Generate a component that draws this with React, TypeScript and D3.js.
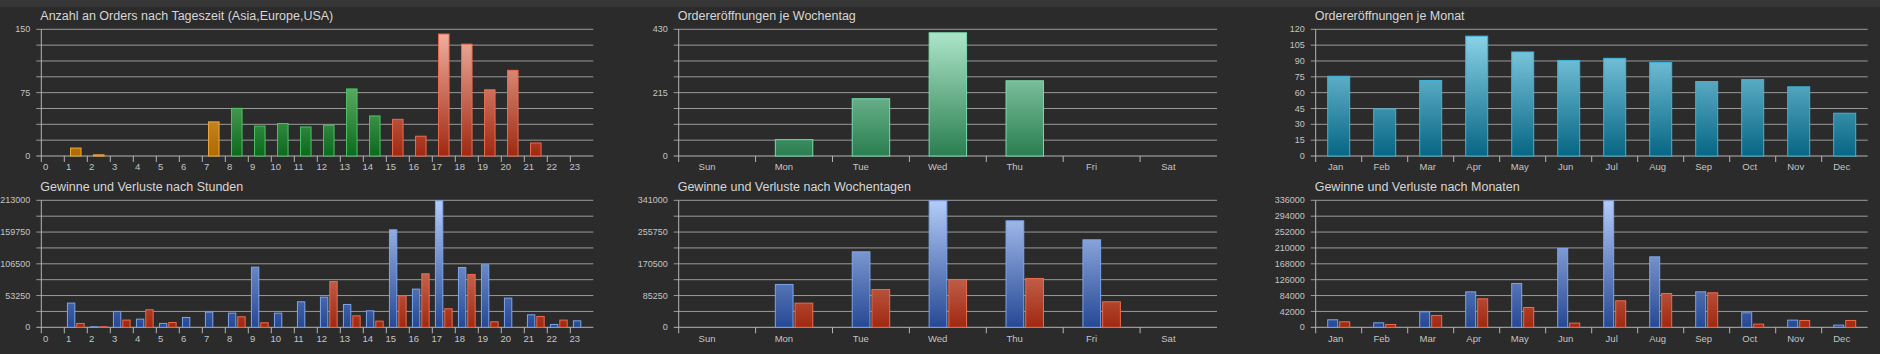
import * as d3 from "d3";

// categories
const hourLabels = ["0", "1", "2", "3", "4", "5", "6", "7", "8", "9", "10", "11", "12", "13", "14", "15", "16", "17", "18", "19", "20", "21", "22", "23"];
const hourRegion = ["asia", "asia", "asia", "asia", "asia", "asia", "asia", "asia", "europe", "europe", "europe", "europe", "europe", "europe", "europe", "usa", "usa", "usa", "usa", "usa", "usa", "usa", "usa", "usa"];
const weekdayLabels = ["Sun", "Mon", "Tue", "Wed", "Thu", "Fri", "Sat"];
const monthLabels = ["Jan", "Feb", "Mar", "Apr", "May", "Jun", "Jul", "Aug", "Sep", "Oct", "Nov", "Dec"];

// order counts
const hourOrders = [0, 10, 2, 0, 0, 0, 0, 41, 57, 36, 39, 35, 37, 80, 48, 44, 24, 145, 133, 79, 102, 16, 0, 0];
const weekdayOrders = [0, 57, 196, 420, 257, 0, 0];
const monthOrders = [76, 45, 72, 114, 99, 91, 93, 89, 71, 73, 66, 41];

// gains / losses
const hourGains = [0, 41400, 1700, 27400, 14500, 7300, 17300, 26300, 24600, 101800, 24600, 43600, 51400, 39100, 28500, 164400, 64900, 213000, 101200, 105700, 49800, 21800, 5600, 11700];
const hourLosses = [0, 7300, 1700, 12900, 30200, 8900, 0, 800, 18500, 8400, 0, 0, 77700, 20100, 11200, 53700, 90600, 31900, 89500, 10100, 0, 19000, 12900, 0];
const weekdayGains = [0, 116400, 204100, 341000, 287300, 236300, 0];
const weekdayLosses = [0, 66200, 102900, 129800, 132500, 69800, 0];
const monthGains = [21200, 13200, 42300, 95200, 117300, 209900, 336000, 187800, 95200, 39700, 20300, 7100];
const monthLosses = [15900, 8800, 32600, 76700, 53800, 12400, 71400, 90800, 92600, 9700, 19400, 19400];

// y tick labels
const hourOrderTicks = [0, 75, 150];
const weekdayOrderTicks = [0, 215, 430];
const monthOrderTicks = [0, 15, 30, 45, 60, 75, 90, 105, 120];
const hourPnlTicks = [0, 53250, 106500, 159750, 213000];
const weekdayPnlTicks = [0, 85250, 170500, 255750, 341000];
const monthPnlTicks = [0, 42000, 84000, 126000, 168000, 210000, 252000, 294000, 336000];

const palette: Record<string, { top: string; bottom: string; stroke: string }> = {
  asia: { top: "#f4c470", bottom: "#b06a00", stroke: "#f0a83a" },
  europe: { top: "#9ee0a0", bottom: "#0b6a1c", stroke: "#4cc464" },
  usa: { top: "#f2b4a4", bottom: "#a02810", stroke: "#ee6a4c" },
  mint: { top: "#b0e8cc", bottom: "#2a7e50", stroke: "#78dcac" },
  teal: { top: "#90d8ec", bottom: "#066684", stroke: "#3cb4dc" },
  gain: { top: "#b4ccf8", bottom: "#264894", stroke: "#7ca4ec" },
  loss: { top: "#f2b4a4", bottom: "#a02810", stroke: "#ee6a4c" },
};

const labelFont = "'Liberation Sans', Arial, sans-serif";
const titleFont = "'Liberation Sans', Arial, sans-serif";

type Series = { key: string; values: number[]; color: (i: number) => string };

type PanelProps = {
  id: string;
  left: number;
  width: number;
  top: number;
  bottom: number;
  title: string;
  labels: string[];
  series: Series[];
  ticks: number[];
  labelDx: number;
  groupFrac: number;
};

const Panel = ({ id, left, width, top, bottom, title, labels, series, ticks, labelDx, groupFrac }: PanelProps) => {
  const max = ticks[ticks.length - 1];
  const x = d3.scaleBand().domain(labels).range([left, left + width]);
  const y = d3.scaleLinear().domain([0, max]).range([bottom, top]);
  const grid = d3.range(9).map((i) => (max * i) / 8);

  const groupW = x.bandwidth() * groupFrac;
  const gap = series.length > 1 ? 1 : 0;
  const barW = (groupW - gap * (series.length - 1)) / series.length;
  const colorKeys = Array.from(new Set(series.flatMap((s) => labels.map((_, i) => s.color(i)))));

  return (
    <g>
      <defs>
        {colorKeys.map((k) => (
          <linearGradient key={k} id={`${id}-${k}`} gradientUnits="userSpaceOnUse" x1={0} y1={top} x2={0} y2={bottom}>
            <stop offset="0%" stopColor={palette[k].top} />
            <stop offset="100%" stopColor={palette[k].bottom} />
          </linearGradient>
        ))}
      </defs>
      <text x={left - 1} y={top - 9} fill="#d6d6d6" fontSize={12.5} fontFamily={titleFont}>
        {title}
      </text>
      {grid.map((v, i) => (
        <line key={i} x1={left - 5} x2={left + width} y1={y(v)} y2={y(v)} stroke={i === 0 ? "#b4b4b4" : "#9a9a9a"} strokeWidth={1} />
      ))}
      {ticks.map((t) => (
        <text key={t} x={left - 11} y={y(t)} dy="0.35em" textAnchor="end" fill="#c4c4c4" fontSize={9} fontFamily={labelFont}>
          {t}
        </text>
      ))}
      <line x1={left} x2={left} y1={top} y2={bottom + 6} stroke="#b4b4b4" />
      {labels.slice(1).map((c) => (
        <line key={c} x1={x(c)} x2={x(c)} y1={bottom} y2={bottom + 6} stroke="#b4b4b4" />
      ))}
      {labels.map((c) => (
        <text key={c} x={(x(c) ?? 0) + labelDx} y={bottom + 11} dy="0.35em" textAnchor="middle" fill="#c4c4c4" fontSize={9.5} fontFamily={labelFont}>
          {c}
        </text>
      ))}
      {series.map((s, si) =>
        s.values.map((v, i) => {
          if (!v) return null;
          const x0 = (x(labels[i]) ?? 0) + (x.bandwidth() - groupW) / 2 + si * (barW + gap);
          const k = s.color(i);
          return (
            <rect
              key={`${s.key}-${i}`}
              x={x0 + 0.5}
              y={y(v) + 0.5}
              width={Math.max(barW - 1, 0)}
              height={Math.max(bottom - y(v) - 0.5, 0)}
              fill={`url(#${id}-${k})`}
              stroke={palette[k].stroke}
              strokeWidth={1}
            />
          );
        })
      )}
    </g>
  );
};

const cols = [
  { left: 41.3, width: 552, labelDx: 4.4 },
  { left: 678.7, width: 538.3, labelDx: 28.3 },
  { left: 1315.7, width: 552, labelDx: 20 },
];
const rows = [
  { top: 29.3, bottom: 156 },
  { top: 200.3, bottom: 327.3 },
];

const App = () => {
  return (
    <svg width={1880} height={354} style={{ position: "absolute", left: 0, top: 0, display: "block" }}>
      <rect x={0} y={0} width={1880} height={354} fill="#2b2b2b" />
      <rect x={0} y={0} width={1880} height={7} fill="#363636" />
      <Panel
        id="p1" {...cols[0]} {...rows[0]} groupFrac={0.5}
        title="Anzahl an Orders nach Tageszeit (Asia,Europe,USA)"
        labels={hourLabels} ticks={hourOrderTicks}
        series={[{ key: "orders", values: hourOrders, color: (i) => hourRegion[i] }]}
      />
      <Panel
        id="p2" {...cols[1]} {...rows[0]} groupFrac={0.5}
        title="Ordereröffnungen je Wochentag"
        labels={weekdayLabels} ticks={weekdayOrderTicks}
        series={[{ key: "orders", values: weekdayOrders, color: () => "mint" }]}
      />
      <Panel
        id="p3" {...cols[2]} {...rows[0]} groupFrac={0.5}
        title="Ordereröffnungen je Monat"
        labels={monthLabels} ticks={monthOrderTicks}
        series={[{ key: "orders", values: monthOrders, color: () => "teal" }]}
      />
      <Panel
        id="p4" {...cols[0]} {...rows[1]} groupFrac={0.77}
        title="Gewinne und Verluste nach Stunden"
        labels={hourLabels} ticks={hourPnlTicks}
        series={[
          { key: "gain", values: hourGains, color: () => "gain" },
          { key: "loss", values: hourLosses, color: () => "loss" },
        ]}
      />
      <Panel
        id="p5" {...cols[1]} {...rows[1]} groupFrac={0.5}
        title="Gewinne und Verluste nach Wochentagen"
        labels={weekdayLabels} ticks={weekdayPnlTicks}
        series={[
          { key: "gain", values: weekdayGains, color: () => "gain" },
          { key: "loss", values: weekdayLosses, color: () => "loss" },
        ]}
      />
      <Panel
        id="p6" {...cols[2]} {...rows[1]} groupFrac={0.5}
        title="Gewinne und Verluste nach Monaten"
        labels={monthLabels} ticks={monthPnlTicks}
        series={[
          { key: "gain", values: monthGains, color: () => "gain" },
          { key: "loss", values: monthLosses, color: () => "loss" },
        ]}
      />
    </svg>
  );
};

export default App;
